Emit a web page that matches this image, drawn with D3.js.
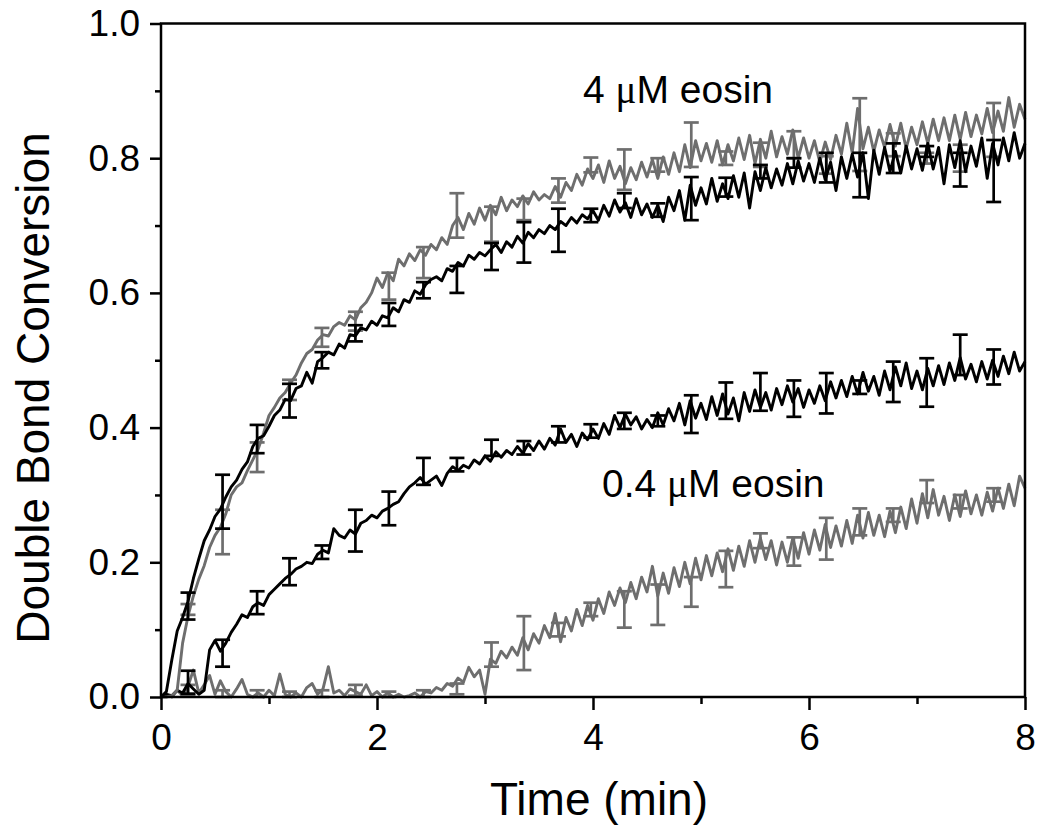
<!DOCTYPE html>
<html><head><meta charset="utf-8">
<script src="https://cdn.jsdelivr.net/npm/d3@7"></script>
<style>
html,body{margin:0;padding:0;background:#fff;}
svg{display:block;font-family:"Liberation Sans",Arial,sans-serif;}
</style></head>
<body><svg id="c" width="1050" height="839"></svg>
<script>
// ---- data ----
const timeStep = 0.05; // min between samples, t = 0 ... 8
const xTicks = [0, 2, 4, 6, 8];
const yTicks = [0.0, 0.2, 0.4, 0.6, 0.8, 1.0];
const xLabel = "Time (min)";
const yLabel = "Double Bond Conversion";

// 4 uM eosin, black trace
const black4 = [0.000,0.008,0.055,0.098,0.118,0.142,0.176,0.205,0.232,0.248,0.268,0.279,0.297,0.312,0.322,0.338,0.349,0.372,0.384,0.388,
0.402,0.418,0.426,0.442,0.440,0.458,0.462,0.482,0.466,0.498,0.504,0.512,0.508,0.524,0.518,0.538,0.536,0.548,0.545,0.558,
0.552,0.566,0.563,0.578,0.572,0.590,0.586,0.603,0.598,0.612,0.620,0.624,0.618,0.636,0.632,0.645,0.640,0.656,0.650,0.660,
0.655,0.664,0.672,0.660,0.676,0.668,0.684,0.674,0.690,0.682,0.694,0.688,0.700,0.694,0.706,0.700,0.712,0.704,0.716,0.710,
0.722,0.708,0.730,0.714,0.738,0.720,0.734,0.712,0.740,0.716,0.732,0.712,0.730,0.706,0.742,0.722,0.752,0.708,0.760,0.730,
0.756,0.732,0.770,0.736,0.762,0.740,0.774,0.742,0.778,0.726,0.780,0.752,0.786,0.756,0.784,0.760,0.792,0.762,0.796,0.766,
0.792,0.764,0.800,0.768,0.794,0.752,0.802,0.770,0.806,0.772,0.808,0.740,0.812,0.776,0.816,0.780,0.810,0.778,0.818,0.784,
0.814,0.782,0.822,0.784,0.816,0.762,0.820,0.786,0.826,0.780,0.818,0.788,0.830,0.770,0.822,0.790,0.830,0.796,0.838,0.800,0.822];

// 4 uM eosin, grey trace
const grey4 = [0.000,0.000,0.002,0.010,0.080,0.120,0.150,0.175,0.195,0.222,0.240,0.252,0.272,0.300,0.312,0.318,0.336,0.352,0.368,0.392,
0.418,0.430,0.444,0.452,0.466,0.478,0.496,0.510,0.516,0.530,0.538,0.536,0.550,0.556,0.552,0.566,0.560,0.578,0.586,0.600,
0.622,0.608,0.630,0.618,0.650,0.640,0.658,0.648,0.664,0.656,0.672,0.664,0.682,0.672,0.700,0.712,0.694,0.718,0.702,0.726,
0.708,0.730,0.716,0.742,0.722,0.738,0.728,0.744,0.732,0.750,0.738,0.746,0.740,0.758,0.742,0.764,0.752,0.776,0.760,0.784,
0.770,0.790,0.764,0.796,0.770,0.788,0.762,0.786,0.768,0.794,0.772,0.798,0.770,0.802,0.776,0.808,0.780,0.820,0.786,0.826,
0.796,0.822,0.794,0.826,0.790,0.820,0.796,0.830,0.798,0.834,0.792,0.828,0.800,0.840,0.802,0.832,0.806,0.842,0.800,0.830,
0.800,0.826,0.794,0.824,0.798,0.834,0.806,0.852,0.808,0.874,0.814,0.846,0.810,0.842,0.816,0.850,0.818,0.852,0.814,0.846,
0.820,0.854,0.822,0.858,0.826,0.860,0.826,0.864,0.828,0.868,0.832,0.864,0.836,0.874,0.838,0.870,0.840,0.890,0.846,0.880,0.858];

// 0.4 uM eosin, black trace
const black04 = [0.000,0.004,0.002,0.010,0.006,0.020,0.012,0.004,0.010,0.070,0.084,0.068,0.080,0.096,0.108,0.122,0.118,0.134,0.140,0.136,
0.152,0.160,0.168,0.176,0.182,0.190,0.194,0.200,0.198,0.212,0.218,0.214,0.250,0.240,0.236,0.248,0.242,0.258,0.262,0.270,
0.266,0.276,0.280,0.286,0.290,0.302,0.312,0.318,0.326,0.316,0.322,0.328,0.314,0.332,0.342,0.336,0.344,0.340,0.352,0.346,
0.358,0.350,0.364,0.356,0.366,0.360,0.372,0.362,0.376,0.366,0.380,0.368,0.384,0.374,0.398,0.378,0.390,0.372,0.392,0.382,
0.398,0.384,0.406,0.390,0.418,0.400,0.420,0.404,0.416,0.398,0.412,0.400,0.422,0.404,0.428,0.410,0.436,0.404,0.440,0.414,
0.436,0.412,0.446,0.418,0.450,0.420,0.444,0.410,0.452,0.424,0.456,0.430,0.452,0.426,0.458,0.434,0.462,0.438,0.458,0.430,
0.456,0.436,0.462,0.440,0.468,0.444,0.470,0.446,0.476,0.450,0.482,0.454,0.476,0.448,0.484,0.456,0.490,0.462,0.496,0.458,
0.484,0.456,0.488,0.462,0.492,0.464,0.496,0.470,0.504,0.472,0.494,0.468,0.498,0.472,0.500,0.476,0.506,0.480,0.512,0.484,0.498];

// 0.4 uM eosin, grey trace
const grey04 = [0.000,0.004,0.000,0.010,0.002,0.016,0.040,0.006,0.018,0.032,0.004,0.024,0.008,0.000,0.012,0.026,0.004,0.000,0.006,0.000,
0.010,0.002,0.034,0.004,0.000,0.006,0.000,0.014,0.020,0.004,0.012,0.045,0.006,0.010,0.002,0.012,0.008,0.004,0.018,0.002,
0.008,0.000,0.006,0.000,0.004,0.000,0.002,0.006,0.000,0.008,0.006,0.014,0.010,0.020,0.016,0.028,0.022,0.044,0.030,0.040,
0.004,0.056,0.050,0.068,0.058,0.074,0.062,0.088,0.070,0.094,0.080,0.106,0.088,0.124,0.082,0.118,0.098,0.130,0.106,0.136,
0.114,0.146,0.124,0.156,0.136,0.162,0.140,0.170,0.146,0.178,0.156,0.194,0.150,0.184,0.154,0.192,0.164,0.200,0.168,0.206,
0.174,0.210,0.180,0.214,0.186,0.220,0.188,0.224,0.194,0.232,0.200,0.236,0.204,0.232,0.196,0.230,0.200,0.236,0.206,0.244,
0.212,0.248,0.218,0.256,0.222,0.254,0.224,0.262,0.228,0.270,0.236,0.274,0.240,0.270,0.238,0.276,0.244,0.282,0.250,0.294,
0.258,0.302,0.266,0.308,0.270,0.298,0.262,0.300,0.268,0.306,0.272,0.300,0.270,0.304,0.276,0.310,0.280,0.316,0.284,0.328,0.310];

// error bars: times, centres and half-widths
const errTime = [0.25,0.57,0.89,1.19,1.49,1.80,2.11,2.43,2.74,3.06,3.36,3.68,3.98,4.29,4.60,4.91,5.23,5.55,5.86,6.16,6.47,6.78,7.09,7.40,7.71];
const black4Mid  = [0.135,0.290,0.383,0.440,0.500,0.540,0.568,0.604,0.620,0.654,0.675,0.693,0.715,0.737,0.723,0.740,0.757,0.780,0.793,0.786,0.775,0.800,0.810,0.783,0.781];
const black4Err  = [0.020,0.040,0.021,0.025,0.012,0.012,0.017,0.012,0.020,0.020,0.030,0.032,0.010,0.011,0.010,0.032,0.014,0.010,0.007,0.022,0.033,0.022,0.008,0.025,0.046];
const grey4Mid   = [0.130,0.245,0.356,0.456,0.534,0.558,0.610,0.645,0.715,0.702,0.724,0.752,0.790,0.783,0.790,0.820,0.800,0.805,0.820,0.790,0.835,0.820,0.800,0.800,0.842];
const grey4Err   = [0.008,0.033,0.022,0.015,0.014,0.014,0.020,0.023,0.033,0.026,0.016,0.018,0.011,0.030,0.010,0.033,0.010,0.018,0.020,0.013,0.054,0.017,0.008,0.020,0.040];
const black04Mid = [0.022,0.065,0.140,0.186,0.215,0.247,0.280,0.335,0.345,0.370,0.370,0.390,0.395,0.410,0.410,0.420,0.440,0.453,0.443,0.451,0.460,0.468,0.467,0.508,0.490];
const black04Err = [0.017,0.020,0.017,0.020,0.010,0.031,0.025,0.020,0.010,0.012,0.010,0.012,0.010,0.012,0.008,0.028,0.027,0.028,0.027,0.030,0.010,0.030,0.036,0.030,0.026];
const grey04Mid  = [0.010,0.005,0.005,0.004,0.005,0.010,0.004,0.005,0.012,0.063,0.080,0.100,0.130,0.130,0.137,0.156,0.190,0.232,0.216,0.235,0.260,0.270,0.305,0.290,0.300];
const grey04Err  = [0.008,0.005,0.005,0.004,0.005,0.008,0.004,0.005,0.008,0.018,0.040,0.010,0.010,0.027,0.030,0.022,0.027,0.011,0.021,0.031,0.020,0.010,0.017,0.010,0.010];

const labelHigh = "4 ";
const labelLow = "0.4 ";
const mu = "\u03bc";
const labelTail = "M eosin";

// ---- drawing ----
const svg = d3.select("#c");
const L = 161, R = 1025, T = 23.5, B = 697;
const x = d3.scaleLinear().domain([0, 8]).range([L, R]);
const y = d3.scaleLinear().domain([0, 1]).range([B, T]);
const BLACK = "#000", GREY = "#6e6e6e";

const series = [
  {v: grey04, mid: grey04Mid, err: grey04Err, c: GREY},
  {v: black04, mid: black04Mid, err: black04Err, c: BLACK},
  {v: grey4, mid: grey4Mid, err: grey4Err, c: GREY},
  {v: black4, mid: black4Mid, err: black4Err, c: BLACK}
];

const line = d3.line().x((d, i) => x(i * timeStep)).y(d => y(d));
const plot = svg.append("g");
series.forEach(s => {
  plot.append("path").attr("d", line(s.v)).attr("fill", "none")
    .attr("stroke", s.c).attr("stroke-width", 2.9).attr("stroke-linejoin", "round");
  const g = plot.append("g").attr("stroke", s.c).attr("stroke-width", 2.7);
  errTime.forEach((t, i) => {
    const cx = x(t), y1 = y(s.mid[i] - s.err[i]), y2 = y(s.mid[i] + s.err[i]);
    g.append("line").attr("x1", cx).attr("x2", cx).attr("y1", y1).attr("y2", y2);
    g.append("line").attr("x1", cx - 7.5).attr("x2", cx + 7.5).attr("y1", y1).attr("y2", y1);
    g.append("line").attr("x1", cx - 7.5).attr("x2", cx + 7.5).attr("y1", y2).attr("y2", y2);
  });
});

// frame
svg.append("rect").attr("x", L).attr("y", T).attr("width", R - L).attr("height", B - T)
  .attr("fill", "none").attr("stroke", "#000").attr("stroke-width", 2.5);

// axes
svg.append("g").attr("transform", `translate(0,${B})`)
  .call(d3.axisBottom(x).tickValues(xTicks).tickFormat(d3.format("d")).tickSize(13).tickPadding(14));
svg.append("g").attr("transform", `translate(0,${B})`)
  .call(d3.axisBottom(x).tickValues([1, 3, 5, 7]).tickFormat("").tickSize(7));
svg.append("g").attr("transform", `translate(${L},0)`)
  .call(d3.axisLeft(y).tickValues(yTicks).tickFormat(d3.format(".1f")).tickSize(11).tickPadding(10));
svg.append("g").attr("transform", `translate(${L},0)`)
  .call(d3.axisLeft(y).tickValues([0.1, 0.3, 0.5, 0.7, 0.9]).tickFormat("").tickSize(6));
svg.selectAll(".domain").remove();
svg.selectAll(".tick line").attr("stroke", "#000").attr("stroke-width", 2.5);
svg.selectAll(".tick text").attr("font-size", 37).attr("fill", "#000")
  .attr("font-family", "'Liberation Sans',Arial,sans-serif");

// axis titles
svg.append("text").attr("x", 599).attr("y", 815).attr("text-anchor", "middle")
  .attr("font-size", 46).text(xLabel);
svg.append("text").attr("transform", "translate(49,388) rotate(-90)").attr("text-anchor", "middle")
  .attr("font-size", 46).text(yLabel);

// annotations
function label(x0, y0, head) {
  const t = svg.append("text").attr("x", x0).attr("y", y0).attr("font-size", 39);
  t.append("tspan").text(head);
  t.append("tspan").attr("font-family", "'Liberation Serif','Times New Roman',serif").text(mu);
  t.append("tspan").text(labelTail);
}
label(583, 103, labelHigh);
label(602, 497, labelLow);
</script></body></html>
